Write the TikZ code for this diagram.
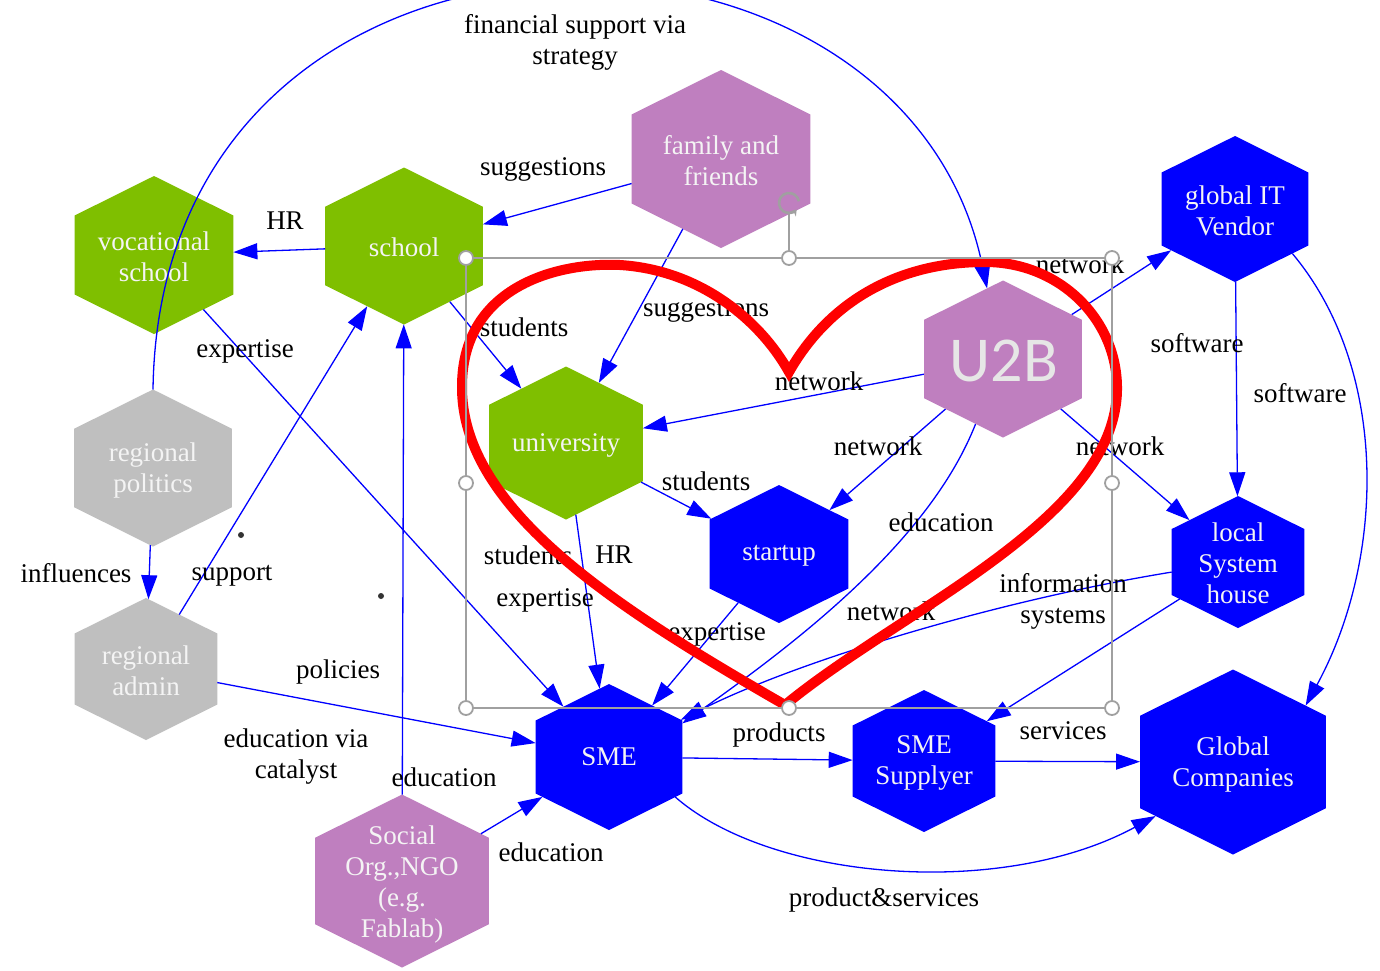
\documentclass[tikz,border=0pt]{standalone}
\usepackage{fontspec}
\setmainfont{Liberation Serif}
\newfontfamily\uzbfont{Carlito}
\usetikzlibrary{shapes.geometric,arrows.meta,calc}
\definecolor{hgreen}{HTML}{7FBF00}
\definecolor{hpurple}{HTML}{BF7FBF}
\definecolor{hgray}{HTML}{BFBFBF}
\definecolor{hblue}{HTML}{0000FF}
\definecolor{ered}{HTML}{FF0000}
\definecolor{selgray}{HTML}{A0A0A0}
\definecolor{ntxt}{HTML}{F4F4F4}
\definecolor{u2btxt}{HTML}{E6E6E6}
\pgfdeclarelayer{heartl}
\pgfdeclarelayer{topl}
\pgfsetlayers{main,heartl,topl}
\newcommand\lfont{\fontsize{27}{31}\selectfont}
\newcommand\hexat[5]{%
  \begin{scope}[shift={(#2,#3)},xscale=1.16]
    \node[hexa,minimum size=#4pt,fill=#5] (#1) at (0,0) {};
  \end{scope}}
\tikzset{
  hexa/.style={regular polygon, regular polygon sides=6, shape border rotate=90,
    inner sep=0pt, outer sep=0pt, draw=none, transform shape},
  ntext/.style={text=ntxt, align=center, font=\lfont, inner sep=0pt},
  lab/.style={text=black, align=center, font=\lfont, inner sep=0pt},
  edge/.style={draw=hblue, line width=1.3pt, -{Triangle[length=24pt,width=16pt]}},
  handle/.style={circle, draw=selgray, fill=white, line width=1.8pt,
    minimum size=14pt, inner sep=0pt},
  heartline/.style={draw=ered, line width=10pt, line join=miter},
  dotmark/.style={circle, fill=black!80, minimum size=6pt, inner sep=0pt}
}
\begin{document}
\begin{tikzpicture}[x=1pt,y=-1pt]
\useasboundingbox (0,0) rectangle (1380,970);
\fill[white] (0,0) rectangle (1380,970);

% ---- hexagon nodes
\hexat{voc}{154}{255}{158}{hgreen}
\hexat{school}{404}{246}{157}{hgreen}
\hexat{fam}{721}{159}{178}{hpurple}
\hexat{gitv}{1235}{209}{146}{hblue}
\hexat{uni}{566}{443}{153}{hgreen}
\hexat{startup}{779}{554}{138}{hblue}
\hexat{lsh}{1238}{562}{132}{hblue}
\hexat{rpol}{153}{468}{157}{hgray}
\hexat{radm}{146}{669}{142}{hgray}
\hexat{sme}{609}{757}{146}{hblue}
\hexat{smes}{924}{761}{142}{hblue}
\hexat{gc}{1233}{762}{185}{hblue}
\hexat{ngo}{402}{881}{173}{hpurple}
\begin{pgfonlayer}{topl}
\hexat{u2b}{1003}{359}{157}{hpurple}
\node[text=u2btxt, inner sep=0pt, font=\uzbfont\fontsize{64}{64}\selectfont] (u2bt) at (1004,361) {U2B};
\end{pgfonlayer}

\node[ntext] (voct) at ([yshift=-2pt]voc.center) {vocational\\school};
\node[ntext] (schoolt) at ([yshift=-1pt]school.center) {school};
\node[ntext] (famt) at ([yshift=-2pt]fam.center) {family and\\friends};
\node[ntext] (gitvt) at ([yshift=-2pt]gitv.center) {global IT\\Vendor};
\node[ntext] (unit) at ([yshift=-2pt]uni.center) {university};
\node[ntext] (startupt) at ([yshift=-2pt]startup.center) {startup};
\node[ntext] (lsht) at ([yshift=-1pt]lsh.center) {local\\System\\house};
\node[ntext] (rpolt) at ([yshift=-2pt]rpol.center) {regional\\politics};
\node[ntext] (radmt) at ([yshift=-2pt]radm.center) {regional\\admin};
\node[ntext] (smet) at (sme) {SME};
\node[ntext] (smest) at ([yshift=-2pt]smes.center) {SME\\Supplyer};
\node[ntext] (gct) at ([yshift=-2pt]gc.center) {Global\\Companies};
\node[ntext] (ngot) at ([yshift=-3pt]ngo.center) {Social\\Org.,NGO\\(e.g.\\Fablab)};

% ---- connectors
\draw[edge] (school) -- (voc);
\draw[edge] (fam) -- (school);
\draw[edge] (fam) -- (uni);
\draw[edge] (school) -- (uni);
\draw[edge] (u2b) -- (uni);
\draw[edge] (u2b) -- (startup);
\draw[edge] (u2b) -- (lsh);
\draw[edge] (u2b) -- (gitv);
\draw[edge] (gitv) -- (lsh);
\draw[edge] (gitv.-42) .. controls (1390,370) and (1385,560) .. (gc.42);
\draw[edge] (uni) -- (startup);
\draw[edge] (uni) -- (sme);
\draw[edge] (startup) -- (sme);
\draw[edge] (u2b.250) .. controls (930,540) and (800,640) .. (sme.28);
\draw[edge] (lsh.190) .. controls (1000,600) and (800,660) .. (sme.31);
\draw[edge] (lsh) -- (smes);
\draw[edge] (sme) -- (smes);
\draw[edge] (smes) -- (gc);
\draw[edge] (sme.-35) .. controls (770,880) and (1000,900) .. (gc.219);
\draw[edge] (radm) -- (sme);
\draw[edge] (radm) -- (school);
\draw[edge] (rpol) -- (radm);
\draw[edge] (voc) -- (sme);
\draw[edge] (ngo) -- (school);
\draw[edge] (ngo) -- (sme);
\draw[edge] (rpol.90) .. controls (160,-130) and (900,-130) .. (u2b.101);

% ---- connector labels
\node[lab] (l1) at (575,42) {financial support via\\strategy};
\node[lab] (l2) at (285,221) {HR};
\node[lab] (l3) at (543,169) {suggestions};
\node[lab] (l4) at (245,351) {expertise};
\node[lab] (l5) at (524,327) {students};
\node[lab] (l6) at (706,310) {suggestions};
\node[lab] (l7) at (819,381) {network};
\node[lab] (l8) at (878,446) {network};
\node[lab] (l9) at (1120,446) {network};
\node[lab] (l10) at (1080,264) {network};
\node[lab] (l11) at (1197,343) {software};
\node[lab] (l12) at (1300,393) {software};
\node[lab] (l13) at (706,481) {students};
\node[lab] (l14) at (528,555) {students};
\node[lab] (l15) at (614,555) {HR};
\node[lab] (l16) at (545,600) {expertise};
\node[lab] (l17) at (941,522) {education};
\node[lab] (l18) at (717,634) {expertise};
\node[lab] (l19) at (891,611) {network};
\node[lab] (l20) at (1063,601) {information\\systems};
\node[lab] (l21) at (1063,731) {services};
\node[lab] (l22) at (779,735) {products};
\node[lab] (l23) at (884,900) {product\&services};
\node[lab] (l24) at (338,672) {policies};
\node[lab] (l25) at (76,573) {influences};
\node[lab] (l26) at (232,576) {support};
\node[lab] (l27) at (296,757) {education via\\catalyst};
\node[lab] (l28) at (444,777) {education};
\node[lab] (l29) at (551,852) {education};

\node[dotmark] (d1) at (241,535) {};
\node[dotmark] (d2) at (381,596) {};

% ---- heart
\begin{pgfonlayer}{heartl}
\draw[heartline] (785,705) .. controls (620,610) and (460,510) .. (462,385)
  .. controls (463,285) and (560,262) .. (620,265)
  .. controls (700,270) and (760,320) .. (789,372)
  .. controls (830,300) and (900,262) .. (985,262)
  .. controls (1060,262) and (1118,320) .. (1117,390)
  .. controls (1115,520) and (900,610) .. cycle;
\end{pgfonlayer}

% ---- selection frame
\begin{pgfonlayer}{topl}
\coordinate (rot) at (789,203);
\draw[selgray, line width=1.5pt] (466,258) rectangle (1112,708);
\draw[selgray, line width=1.5pt] (789,214) -- (789,258);
\draw[selgray, line width=2.6pt, -{Stealth[length=6pt,width=8pt]}]
  ($(rot)+(10:10pt)$) arc[start angle=10, end angle=320, radius=10pt];
\node[handle] (h1) at (466,258) {};
\node[handle] (h2) at (789,258) {};
\node[handle] (h3) at (1112,258) {};
\node[handle] (h4) at (466,483) {};
\node[handle] (h5) at (1112,483) {};
\node[handle] (h6) at (466,708) {};
\node[handle] (h7) at (789,708) {};
\node[handle] (h8) at (1112,708) {};
\end{pgfonlayer}
\end{tikzpicture}
\end{document}
